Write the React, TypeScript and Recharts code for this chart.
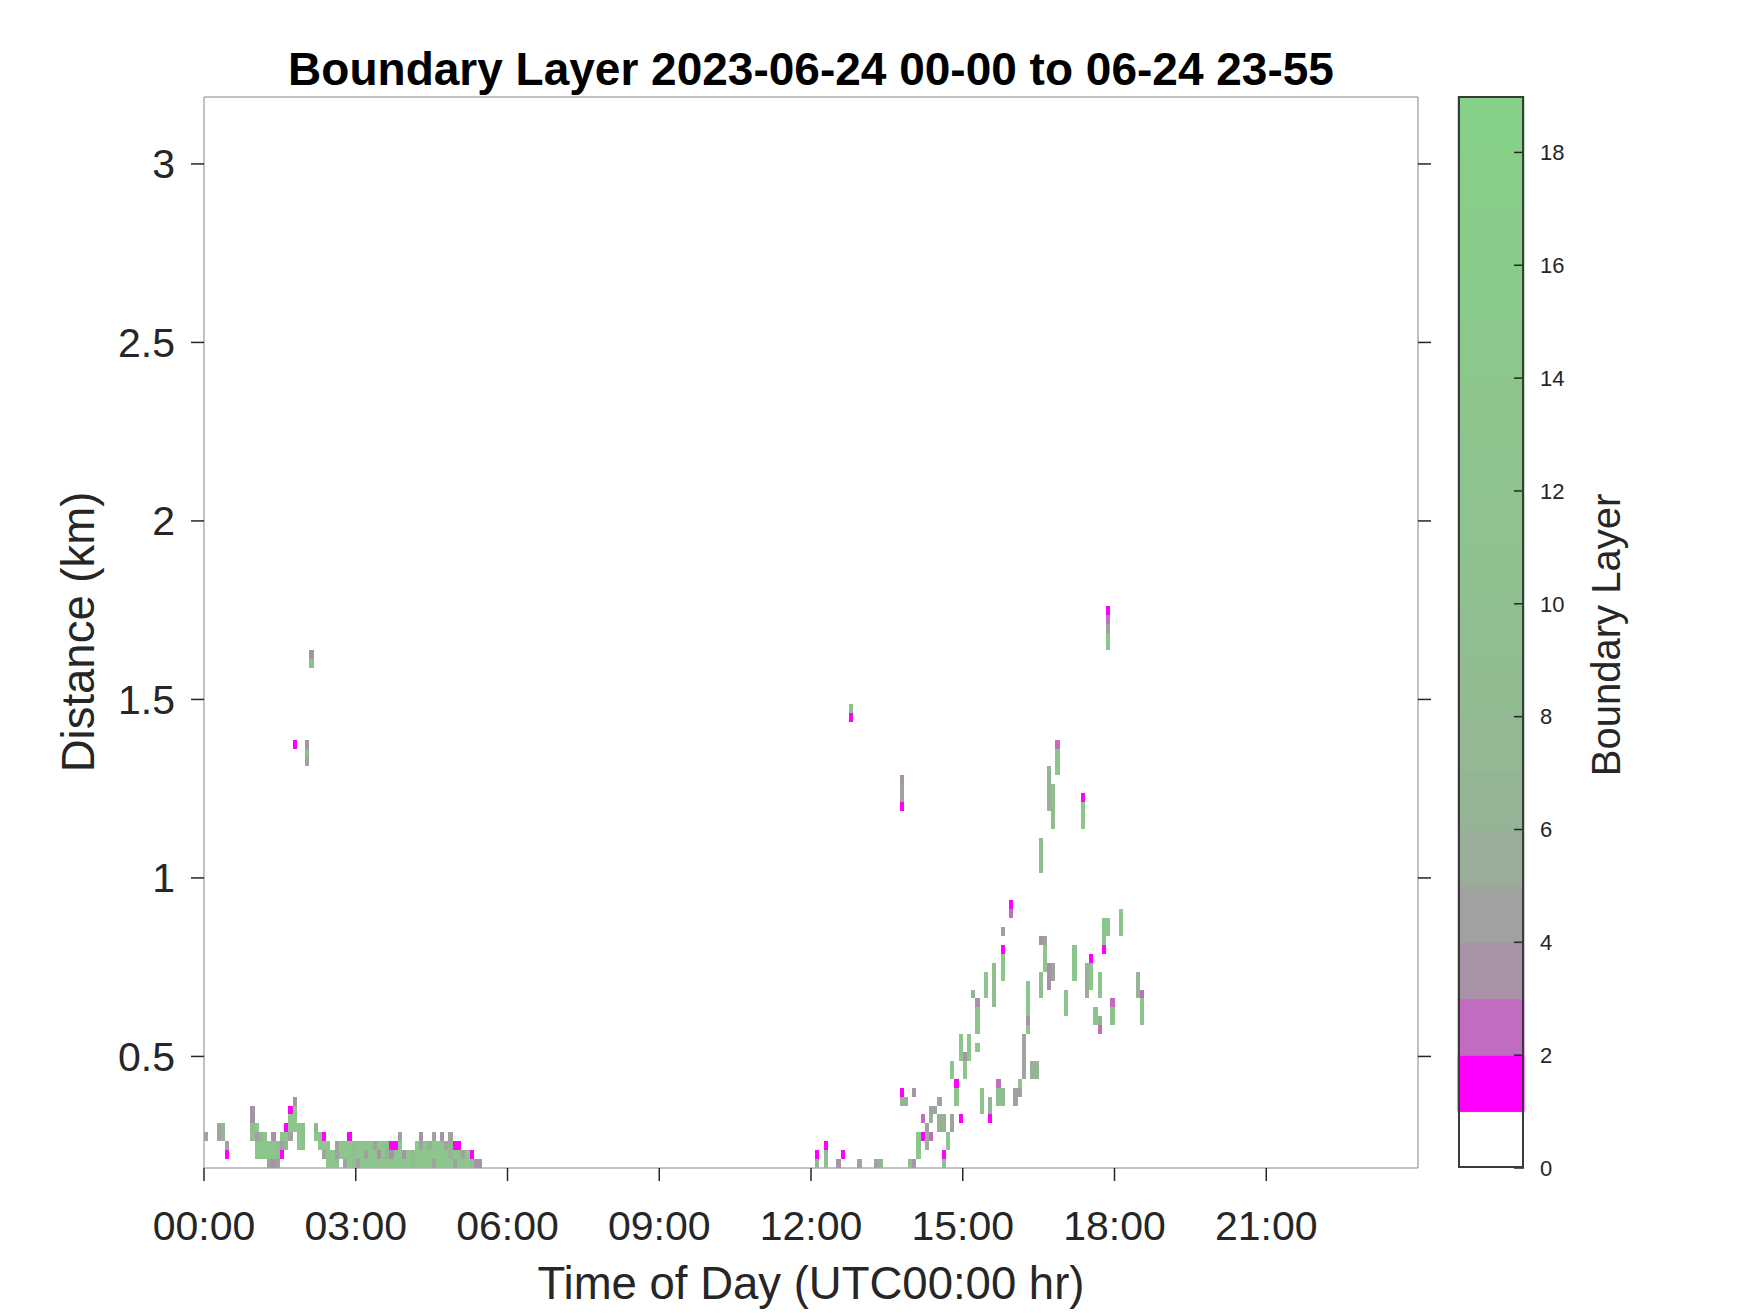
import { ScatterChart, Scatter, XAxis, YAxis, BarChart, Bar } from 'recharts'

const FONT = "'Liberation Sans', Arial, Helvetica, sans-serif"
const INK = '#262626'
const BOX = '#868686'

// axes
const hourTicks = [0, 3, 6, 9, 12, 15, 18, 21]
const kmTicks = [0.5, 1, 1.5, 2, 2.5, 3]
const kmDomain = [0.1875, 3.1875]

// each run: [start time, lowest cell centre (km), highest cell centre (km), value]
type Run = [string, number, number, number]

const nightRuns: Run[] = [
  ['00:00', 0.275, 0.275, 4.5],
  ['00:15', 0.275, 0.3, 4.5],
  ['00:20', 0.275, 0.3, 6.5],
  ['00:25', 0.25, 0.25, 4.5], ['00:25', 0.225, 0.225, 1.5],
  ['00:55', 0.325, 0.35, 3.5], ['00:55', 0.275, 0.3, 9],
  ['01:00', 0.3, 0.3, 13], ['01:00', 0.275, 0.275, 4.5], ['01:00', 0.225, 0.25, 13],
  ['01:05', 0.275, 0.275, 6.5], ['01:05', 0.225, 0.25, 13],
  ['01:10', 0.225, 0.275, 13],
  ['01:15', 0.225, 0.25, 13], ['01:15', 0.2, 0.2, 4.5],
  ['01:20', 0.275, 0.275, 3.5], ['01:20', 0.225, 0.25, 13], ['01:20', 0.2, 0.2, 3.5],
  ['01:25', 0.225, 0.25, 9], ['01:25', 0.2, 0.2, 4.5],
  ['01:30', 0.275, 0.275, 13], ['01:30', 0.25, 0.25, 4.5], ['01:30', 0.225, 0.225, 1.5],
  ['01:35', 0.3, 0.3, 1.5], ['01:35', 0.275, 0.275, 13], ['01:35', 0.25, 0.25, 6.5],
  ['01:40', 0.35, 0.35, 1.5], ['01:40', 0.3, 0.325, 13], ['01:40', 0.275, 0.275, 4.5],
  ['01:45', 0.375, 0.375, 3.5], ['01:45', 0.3, 0.35, 13],
  ['01:50', 0.25, 0.3, 13],
  ['01:55', 0.25, 0.3, 9],
  ['02:10', 0.3, 0.3, 6.5], ['02:10', 0.275, 0.275, 13],
  ['02:15', 0.25, 0.275, 13],
  ['02:20', 0.275, 0.275, 1.5], ['02:20', 0.25, 0.25, 13], ['02:20', 0.225, 0.225, 4.5],
  ['02:25', 0.2, 0.25, 13],
  ['02:30', 0.2, 0.225, 13],
  ['02:35', 0.225, 0.25, 4.5], ['02:35', 0.2, 0.2, 9],
  ['02:40', 0.225, 0.25, 13],
  ['02:45', 0.225, 0.25, 13], ['02:45', 0.2, 0.2, 4.5],
  ['02:50', 0.275, 0.275, 1.5], ['02:50', 0.2, 0.25, 13],
  ['02:55', 0.2, 0.25, 9],
  ['03:00', 0.225, 0.25, 13], ['03:00', 0.2, 0.2, 4.5],
  ['03:05', 0.2, 0.25, 13],
  ['03:10', 0.25, 0.25, 13], ['03:10', 0.225, 0.225, 4.5], ['03:10', 0.2, 0.2, 13],
  ['03:15', 0.2, 0.25, 13],
  ['03:20', 0.25, 0.25, 4.5], ['03:20', 0.2, 0.225, 13],
  ['03:25', 0.25, 0.25, 13], ['03:25', 0.225, 0.225, 3.5], ['03:25', 0.2, 0.2, 13],
  ['03:30', 0.2, 0.25, 13],
  ['03:35', 0.25, 0.25, 9], ['03:35', 0.225, 0.225, 6.5], ['03:35', 0.2, 0.2, 13],
  ['03:40', 0.25, 0.25, 1.5], ['03:40', 0.225, 0.225, 3.5], ['03:40', 0.2, 0.2, 13],
  ['03:45', 0.25, 0.25, 1.5], ['03:45', 0.2, 0.225, 13],
  ['03:50', 0.275, 0.275, 4.5], ['03:50', 0.2, 0.25, 13],
  ['03:55', 0.225, 0.225, 3.5], ['03:55', 0.2, 0.2, 13],
  ['04:00', 0.2, 0.225, 13],
  ['04:05', 0.2, 0.225, 9],
  ['04:10', 0.2, 0.25, 13],
  ['04:15', 0.275, 0.275, 3.5], ['04:15', 0.25, 0.25, 4.5], ['04:15', 0.2, 0.225, 13],
  ['04:20', 0.2, 0.25, 13],
  ['04:25', 0.25, 0.25, 6.5], ['04:25', 0.2, 0.225, 13],
  ['04:30', 0.275, 0.275, 4.5], ['04:30', 0.225, 0.25, 13], ['04:30', 0.2, 0.2, 4.5],
  ['04:35', 0.2, 0.25, 13],
  ['04:40', 0.275, 0.275, 3.5], ['04:40', 0.2, 0.25, 13],
  ['04:45', 0.25, 0.25, 4.5], ['04:45', 0.2, 0.225, 13],
  ['04:50', 0.275, 0.275, 4.5], ['04:50', 0.225, 0.25, 6.5], ['04:50', 0.2, 0.2, 13],
  ['04:55', 0.25, 0.25, 1.5], ['04:55', 0.225, 0.225, 13], ['04:55', 0.2, 0.2, 4.5],
  ['05:00', 0.25, 0.25, 1.5], ['05:00', 0.225, 0.225, 9], ['05:00', 0.2, 0.2, 13],
  ['05:05', 0.225, 0.225, 4.5], ['05:05', 0.2, 0.2, 13],
  ['05:10', 0.225, 0.225, 13], ['05:10', 0.2, 0.2, 13],
  ['05:15', 0.225, 0.225, 1.5], ['05:15', 0.2, 0.2, 9],
  ['05:20', 0.2, 0.2, 3.5],
  ['05:25', 0.2, 0.2, 3.5],
]

const nightOutliers: Run[] = [
  ['01:45', 1.375, 1.375, 1.5],
  ['02:00', 1.375, 1.375, 3.5], ['02:00', 1.35, 1.35, 9], ['02:00', 1.325, 1.325, 4.5],
  ['02:05', 1.625, 1.625, 3.5], ['02:05', 1.6, 1.6, 9],
]

const afternoonLow: Run[] = [
  ['12:05', 0.225, 0.225, 1.5], ['12:05', 0.2, 0.2, 6.5],
  ['12:15', 0.25, 0.25, 1.5], ['12:15', 0.2, 0.225, 9],
  ['12:30', 0.2, 0.2, 3.5],
  ['12:35', 0.225, 0.225, 1.5],
  ['12:55', 0.2, 0.2, 4.5],
  ['13:15', 0.2, 0.2, 4.5], ['13:20', 0.2, 0.2, 6.5],
  ['13:45', 0.4, 0.4, 1.5], ['13:45', 0.375, 0.375, 6.5],
  ['13:50', 0.375, 0.375, 6.5],
  ['13:55', 0.2, 0.2, 9],
  ['14:00', 0.4, 0.4, 3.5], ['14:00', 0.2, 0.2, 3.5],
  ['14:05', 0.225, 0.275, 13],
  ['14:10', 0.325, 0.325, 2.5], ['14:10', 0.275, 0.275, 1.5],
  ['14:15', 0.3, 0.3, 4.5], ['14:15', 0.25, 0.275, 6.5],
  ['14:20', 0.35, 0.35, 4.5], ['14:20', 0.325, 0.325, 6.5], ['14:20', 0.275, 0.275, 2.5],
  ['14:25', 0.35, 0.35, 4.5],
  ['14:30', 0.375, 0.375, 4.5], ['14:30', 0.3, 0.325, 6.5],
  ['14:35', 0.3, 0.325, 6.5], ['14:35', 0.225, 0.225, 1.5], ['14:35', 0.2, 0.2, 9],
  ['14:40', 0.25, 0.275, 13],
  ['14:45', 0.45, 0.475, 13], ['14:45', 0.3, 0.325, 4.5],
  ['14:50', 0.425, 0.425, 1.5], ['14:50', 0.375, 0.4, 13],
  ['14:55', 0.5, 0.55, 13], ['14:55', 0.325, 0.325, 1.5],
  ['15:00', 0.5, 0.5, 3.5], ['15:00', 0.45, 0.475, 13],
  ['15:05', 0.5, 0.55, 13],
  ['15:20', 0.35, 0.4, 13],
  ['15:30', 0.35, 0.375, 6.5], ['15:30', 0.325, 0.325, 1.5],
  ['15:40', 0.425, 0.425, 2.5], ['15:40', 0.375, 0.4, 9],
  ['15:45', 0.375, 0.4, 9],
  ['16:00', 0.375, 0.4, 4.5],
  ['16:05', 0.425, 0.425, 13], ['16:05', 0.4, 0.4, 4.5],
  ['16:10', 0.45, 0.55, 4.5],
  ['16:20', 0.45, 0.475, 6.5], ['16:25', 0.45, 0.475, 6.5],
]

const afternoonMid: Run[] = [
  ['15:10', 0.675, 0.675, 6.5],
  ['15:15', 0.65, 0.65, 3.5], ['15:15', 0.575, 0.625, 13], ['15:15', 0.525, 0.525, 13],
  ['15:25', 0.675, 0.725, 13],
  ['15:35', 0.65, 0.75, 9],
  ['15:45', 0.85, 0.85, 4.5], ['15:45', 0.8, 0.8, 1.5], ['15:45', 0.725, 0.775, 13],
  ['15:55', 0.925, 0.925, 1.5], ['15:55', 0.9, 0.9, 2.5],
  ['16:15', 0.625, 0.7, 13], ['16:15', 0.6, 0.6, 3.5], ['16:15', 0.575, 0.575, 13],
  ['16:30', 1.025, 1.1, 9], ['16:30', 0.825, 0.825, 3.5], ['16:30', 0.675, 0.725, 9],
  ['16:35', 0.825, 0.825, 4.5], ['16:35', 0.75, 0.8, 13],
  ['16:40', 0.7, 0.75, 3.5],
  ['16:45', 0.725, 0.75, 4.5],
  ['17:00', 0.625, 0.675, 13],
  ['17:10', 0.725, 0.8, 13],
  ['17:25', 0.675, 0.75, 6.5],
  ['17:30', 0.775, 0.775, 1.5], ['17:30', 0.7, 0.75, 13],
  ['17:35', 0.6, 0.625, 13],
  ['17:40', 0.675, 0.725, 13], ['17:40', 0.6, 0.6, 6.5], ['17:40', 0.575, 0.575, 2.5],
  ['17:45', 0.825, 0.875, 13], ['17:45', 0.8, 0.8, 1.5],
  ['17:50', 0.85, 0.875, 13],
  ['17:55', 0.65, 0.65, 2.5], ['17:55', 0.6, 0.625, 13],
  ['18:05', 0.85, 0.9, 13],
  ['18:25', 0.675, 0.725, 6.5],
  ['18:30', 0.675, 0.675, 2.5], ['18:30', 0.6, 0.65, 13],
]

const afternoonHigh: Run[] = [
  ['12:45', 1.475, 1.475, 9], ['12:45', 1.45, 1.45, 1.5],
  ['13:45', 1.275, 1.275, 3.5], ['13:45', 1.225, 1.25, 4.5], ['13:45', 1.2, 1.2, 1.5],
  ['16:40', 1.2, 1.3, 6.5],
  ['16:45', 1.15, 1.25, 9],
  ['16:50', 1.375, 1.375, 2.5], ['16:50', 1.3, 1.35, 13],
  ['17:20', 1.225, 1.225, 1.5], ['17:20', 1.15, 1.2, 13],
  ['17:50', 1.75, 1.75, 1.5], ['17:50', 1.725, 1.725, 2.5], ['17:50', 1.7, 1.7, 4.5], ['17:50', 1.65, 1.675, 13],
]

// colour scale (one colour per unit level, 0..18)
const levelColors = [
  '#ffffff', '#ff00ff', '#c16bc1', '#a892a8', '#9fa29f', '#99ad99', '#95b495',
  '#93b893', '#91bb91', '#90be90', '#8fc08f', '#8ec28e', '#8dc48d', '#8cc68c',
  '#8bc88b', '#8aca8a', '#89cc89', '#88ce88', '#87d087',
]
const levelTicks = [0, 2, 4, 6, 8, 10, 12, 14, 16, 18]

// layout
const W = 1750
const H = 1313
const PLOT = { left: 204, top: 97, right: 1418, bottom: 1168 }
const pxPerHour = (PLOT.right - PLOT.left) / 24
const pxPerKm = (PLOT.bottom - PLOT.top) / (kmDomain[1] - kmDomain[0])
const CELL_MIN = 5
const CELL_KM = 0.025

const toHours = (s: string) => Number(s.slice(0, 2)) + Number(s.slice(3)) / 60
const fmtHour = (h: number) => `${String(h).padStart(2, '0')}:00`

const toPoints = (runs: Run[]) =>
  runs.map(([t, lo, hi, v]) => ({ x: toHours(t), y: hi + CELL_KM / 2, span: hi - lo + CELL_KM, v }))

const CellShape = (props: any) => {
  const { cx, cy, payload } = props
  if (cx == null || cy == null) return null
  return (
    <rect
      x={cx}
      y={cy}
      width={(CELL_MIN / 60) * pxPerHour}
      height={payload.span * pxPerKm}
      fill={levelColors[Math.floor(payload.v)]}
      shapeRendering="crispEdges"
    />
  )
}

const groups = [nightRuns, nightOutliers, afternoonLow, afternoonMid, afternoonHigh]

// colorbar
const CB = { left: 1458, top: 96, width: 66, height: 1072 }
const cbRow = [Object.fromEntries(levelColors.map((_, i) => [`l${i}`, 1]))]

const ColorbarTick = ({ x, y, payload }: any) => (
  <g>
    <line x1={x - 16 - 10} x2={x - 16} y1={y} y2={y} stroke={INK} strokeWidth={1.5} />
    <text x={x} y={y} dy="0.355em" textAnchor="start" fontSize={22} fill={INK} fontFamily={FONT}>
      {payload.value}
    </text>
  </g>
)

export default function App() {
  return (
    <div style={{ position: 'absolute', left: 0, top: 0, width: W, height: H, background: '#fff', fontFamily: FONT }}>
      <ScatterChart
        width={W}
        height={H}
        margin={{ top: PLOT.top - 13, right: W - PLOT.right - 13, bottom: 0, left: 0 }}
      >
        <XAxis
          type="number"
          dataKey="x"
          domain={[0, 24]}
          ticks={hourTicks}
          tickFormatter={fmtHour}
          allowDataOverflow
          height={H - PLOT.bottom}
          tickSize={13}
          tickMargin={30}
          axisLine={{ stroke: BOX }}
          tickLine={{ stroke: INK, strokeWidth: 1.5 }}
          tick={{ fontSize: 41, fill: INK, fontFamily: FONT }}
          label={{ value: 'Time of Day (UTC00:00 hr)', position: 'insideBottom', offset: 14, fontSize: 45.5, fill: INK, fontFamily: FONT }}
        />
        <XAxis
          xAxisId="top"
          orientation="top"
          type="number"
          domain={[0, 24]}
          ticks={hourTicks}
          tickFormatter={() => ''}
          allowDataOverflow
          height={13}
          tickSize={13}
          axisLine={{ stroke: BOX }}
          tickLine={{ stroke: INK, strokeWidth: 1.5 }}
        />
        <YAxis
          type="number"
          dataKey="y"
          domain={kmDomain}
          ticks={kmTicks}
          allowDataOverflow
          width={PLOT.left}
          tickSize={13}
          tickMargin={16}
          axisLine={{ stroke: BOX }}
          tickLine={{ stroke: INK, strokeWidth: 1.5 }}
          tick={{ fontSize: 41, fill: INK, fontFamily: FONT }}
        />
        <YAxis
          yAxisId="right"
          orientation="right"
          type="number"
          domain={kmDomain}
          ticks={kmTicks}
          tickFormatter={() => ''}
          allowDataOverflow
          width={13}
          tickSize={13}
          axisLine={{ stroke: BOX }}
          tickLine={{ stroke: INK, strokeWidth: 1.5 }}
        />
        {groups.map((runs, i) => (
          <Scatter key={i} data={toPoints(runs)} shape={<CellShape />} isAnimationActive={false} />
        ))}
      </ScatterChart>

      <div
        style={{
          position: 'absolute', left: PLOT.left, top: 46, width: PLOT.right - PLOT.left,
          textAlign: 'center', fontSize: 46, lineHeight: '46px', fontWeight: 'bold', color: '#000', whiteSpace: 'nowrap',
        }}
      >
        Boundary Layer 2023-06-24 00-00 to 06-24 23-55
      </div>

      <div
        style={{
          position: 'absolute', left: 79 - 350, top: 632 - 28, width: 700, height: 56,
          lineHeight: '56px', textAlign: 'center', fontSize: 45.5, color: INK, transform: 'rotate(-90deg)', whiteSpace: 'nowrap',
        }}
      >
        Distance (km)
      </div>

      <div style={{ position: 'absolute', left: CB.left - 18, top: CB.top - 16 }}>
        <BarChart
          width={160}
          height={CB.height + 38}
          data={cbRow}
          barCategoryGap={0}
          margin={{ top: 16, right: 0, bottom: 22, left: 18 }}
        >
          <XAxis type="category" hide />
          <YAxis
            orientation="right"
            type="number"
            domain={[0, 19]}
            ticks={levelTicks}
            allowDataOverflow
            width={160 - 18 - CB.width}
            tickSize={0}
            tickMargin={16}
            axisLine={false}
            tickLine={false}
            tick={<ColorbarTick />}
          />
          {levelColors.map((c, i) => (
            <Bar key={i} dataKey={`l${i}`} stackId="cb" fill={c} stroke={c} strokeWidth={1} isAnimationActive={false} />
          ))}
        </BarChart>
      </div>
      <div
        style={{
          position: 'absolute', left: CB.left, top: CB.top, width: CB.width, height: CB.height,
          boxSizing: 'border-box', border: '2px solid #3a3a3a', pointerEvents: 'none',
        }}
      />

      <div
        style={{
          position: 'absolute', left: 1606 - 300, top: 635 - 25, width: 600, height: 50,
          lineHeight: '50px', textAlign: 'center', fontSize: 40, color: INK, transform: 'rotate(-90deg)', whiteSpace: 'nowrap',
        }}
      >
        Boundary Layer
      </div>
    </div>
  )
}
